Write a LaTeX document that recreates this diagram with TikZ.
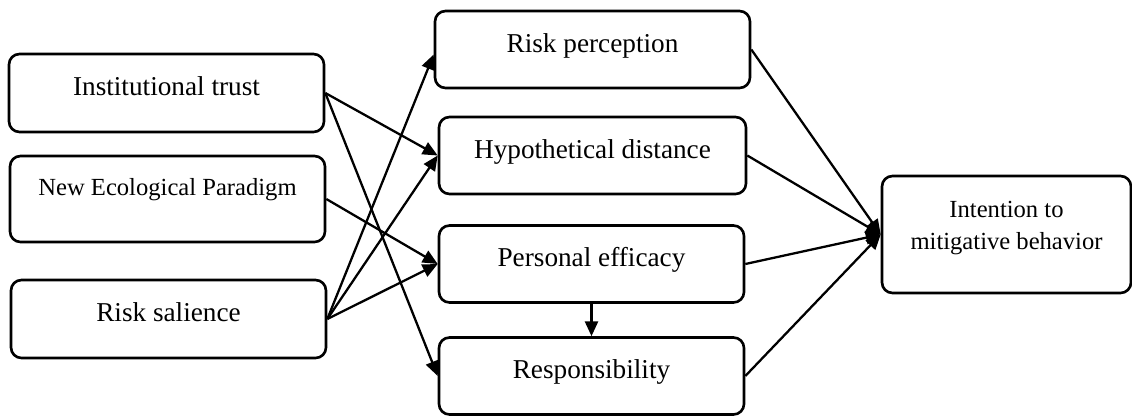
\documentclass[tikz,border=0pt]{standalone}
\usepackage{fontspec}
\setmainfont{Liberation Serif}
\usetikzlibrary{arrows.meta,positioning}

\begin{document}
\begin{tikzpicture}[
  varbox/.style={
    rectangle, rounded corners=6pt,
    minimum width=6.3cm, minimum height=1.54cm,
    draw=black, line width=1.5pt,
    font=\fontsize{15.5}{18}\selectfont,
    align=center,
    text height=10pt, text depth=7pt
  },
  link/.style={-{Triangle[length=8.5pt,width=7.5pt]}, line width=1.3pt, draw=black}
]
\useasboundingbox (0,0) rectangle (22.64,-8.34);

\node[varbox, minimum height=1.56cm] (trust) at (3.33,-1.86) {Institutional trust};
\node[varbox, minimum height=1.72cm, font=\fontsize{14}{17}\selectfont,
      text depth=14.4pt] (nep) at (3.35,-3.98) {New Ecological Paradigm};
\node[varbox, minimum height=1.56cm] (sal) at (3.37,-6.38) {Risk salience};

\node[varbox] (perc) at (11.85,-0.99) {Risk perception};
\node[varbox, minimum width=6.14cm] (dist) at (11.85,-3.11) {Hypothetical distance};
\node[varbox, minimum width=6.1cm] (eff) at (11.83,-5.28) {Personal efficacy};
\node[varbox, minimum width=6.1cm] (resp) at (11.83,-7.52) {Responsibility};

\node[varbox, minimum width=4.98cm, minimum height=2.34cm,
      font=\fontsize{14}{18.1}\selectfont, text height=27pt, text depth=10pt]
  (intent) at (20.13,-4.69) {Intention to\\mitigative behavior};

\draw[link] (trust.east) -- (dist.west);
\draw[link] (trust.east) -- (resp.west);
\draw[link] (nep.east) -- (eff.west);
\draw[link] (sal.east) -- ([yshift=-0.1cm]perc.west);
\draw[link] (sal.east) -- (dist.west);
\draw[link] (sal.east) -- (eff.west);
\draw[link] (eff.south) -- (resp.north);

\draw[link] (perc.east) -- (intent.west);
\draw[link] (dist.east) -- (intent.west);
\draw[link] (eff.east) -- (intent.west);
\draw[link] (resp.east) -- (intent.west);
\end{tikzpicture}
\end{document}
